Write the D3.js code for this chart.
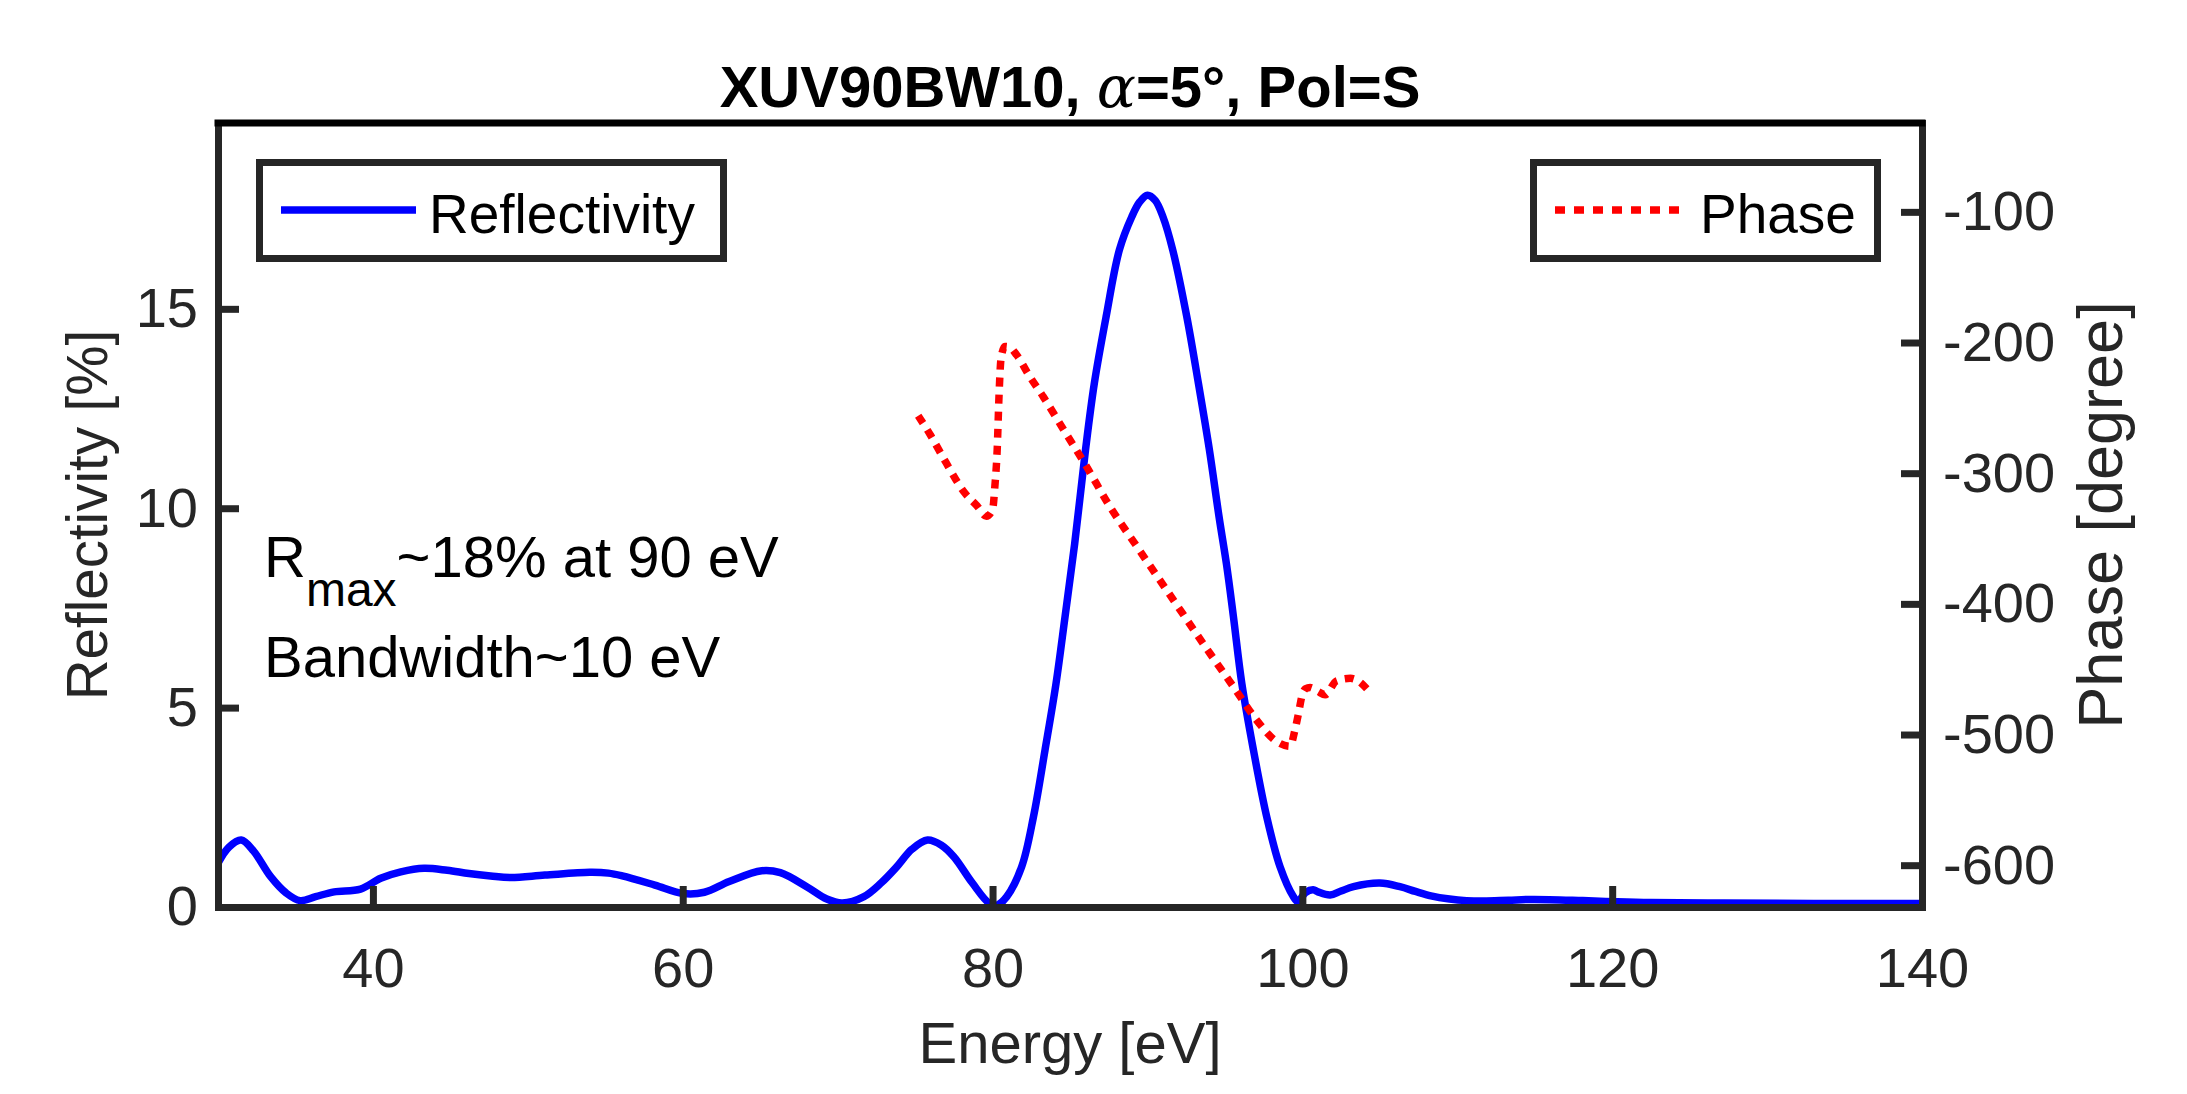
<!DOCTYPE html>
<html>
<head>
<meta charset="utf-8">
<script src="https://cdn.jsdelivr.net/npm/d3@7"></script>
<style>
  html, body { margin: 0; padding: 0; background: #fff; }
  svg { display: block; }
  text { font-family: "Liberation Sans", Arial, Helvetica, sans-serif; }
</style>
</head>
<body>
<svg id="chart" width="2187" height="1094"></svg>
<script>
// ---------- data ----------
const reflEnergy = [30, 30.7, 31.5, 32.3, 33.4, 34.4, 35.3, 36.3, 37.5, 39.2, 40.5, 41.8, 43.3, 44.8, 46.2, 47.6, 48.9, 51.1, 54.0, 55.2, 56.1, 58.2, 60.0, 61.4, 63.0, 65.1, 66.3, 68.0, 69.3, 70.3, 71.7, 72.8, 73.8, 74.8, 75.8, 76.7, 77.5, 78.7, 79.8, 80.3, 80.92, 81.88, 82.64, 83.39, 84.1, 84.68, 85.3, 86.0, 86.57, 87.33, 88.19, 88.99, 89.5, 90.0, 90.5, 91.0, 91.63, 92.54, 93.29, 94.0, 94.62, 95.1, 95.55, 96.09, 96.84, 97.7, 98.56, 99.42, 99.7, 100.2, 100.7, 101.0, 101.79, 102.5, 103.3, 105.0, 106.3, 107.3, 108.3, 109.5, 110.6, 111.7, 113.3, 114.9, 118.1, 120.3, 122.5, 127.2, 133, 140];
const reflValue  = [1.1, 1.5, 1.68, 1.4, 0.76, 0.35, 0.16, 0.26, 0.38, 0.45, 0.72, 0.88, 0.97, 0.92, 0.84, 0.78, 0.74, 0.8, 0.87, 0.85, 0.78, 0.55, 0.34, 0.37, 0.64, 0.91, 0.86, 0.51, 0.2, 0.1, 0.26, 0.6, 1.0, 1.45, 1.68, 1.55, 1.26, 0.6, 0.09, 0.05, 0.26, 1.01, 2.26, 3.94, 5.61, 7.28, 9.1, 11.46, 13.13, 14.8, 16.48, 17.31, 17.68, 17.85, 17.72, 17.31, 16.48, 14.8, 13.13, 11.46, 9.79, 8.6, 7.28, 5.61, 3.94, 2.26, 1.01, 0.26, 0.14, 0.36, 0.43, 0.38, 0.30, 0.4, 0.51, 0.6, 0.51, 0.39, 0.28, 0.2, 0.16, 0.15, 0.17, 0.19, 0.16, 0.13, 0.11, 0.1, 0.09, 0.09];

const phaseEnergy = [75.2, 76.0, 77.0, 78.2, 79.0, 79.6, 80.0, 80.15, 80.3, 80.42, 80.55, 80.8, 81.1, 81.56, 82.4, 83.28, 84.6, 85.97, 87.6, 89.31, 91.67, 94.04, 95.76, 96.95, 98.35, 99.2, 99.53, 99.75, 99.96, 100.2, 100.5, 101.0, 101.47, 102.2, 103.1, 103.6, 104.16];
const phaseValue  = [-256, -271, -292, -315, -325, -333, -328, -310, -282, -240, -212, -203, -203.5, -209.6, -226, -241.6, -267, -293, -326, -356, -397, -438, -467, -487.5, -505.4, -509, -496, -484, -471, -465, -464, -467, -469.6, -459, -457, -459, -465];

const xTicks = [40, 60, 80, 100, 120, 140];
const yLeftTicks = [0, 5, 10, 15];
const yRightTicks = [-100, -200, -300, -400, -500, -600];

const titleMain = "XUV90BW10, ";
const titleAlpha = "\u03B1";
const titleRest = "=5\u00B0, Pol=S";
const xLabel = "Energy [eV]";
const yLeftLabel = "Reflectivity [%]";
const yRightLabel = "Phase [degree]";
const legendRefl = "Reflectivity";
const legendPhase = "Phase";

// ---------- layout ----------
const svg = d3.select("#chart");
const L = 218, R = 1922, T = 123, B = 907;
const axisColor = "#262626";

svg.append("rect").attr("width", 2187).attr("height", 1094).attr("fill", "#fff");

const x = d3.scaleLinear().domain([30, 140]).range([L, R]);
const yL = d3.scaleLinear().domain([0, 19.66]).range([B, T]);
const yR = d3.scaleLinear().domain([-632, -32]).range([B, T]);

svg.append("clipPath").attr("id", "clip")
  .append("rect").attr("x", L).attr("y", T).attr("width", R - L).attr("height", B - T);

// ---------- lines ----------
const reflData = reflEnergy.map((e, i) => [e, reflValue[i]]);
const phaseData = phaseEnergy.map((e, i) => [e, phaseValue[i]]);

const lineRefl = d3.line().x(d => x(d[0])).y(d => yL(d[1])).curve(d3.curveCatmullRom.alpha(0.5));
const linePhase = d3.line().x(d => x(d[0])).y(d => yR(d[1])).curve(d3.curveMonotoneX);

const g = svg.append("g").attr("clip-path", "url(#clip)");
g.append("path").datum(reflData).attr("d", lineRefl)
  .attr("fill", "none").attr("stroke", "#0000ff").attr("stroke-width", 7.5)
  .attr("stroke-linejoin", "round");
g.append("path").datum(phaseData).attr("d", linePhase)
  .attr("fill", "none").attr("stroke", "#ff0000").attr("stroke-width", 7.5)
  .attr("stroke-dasharray", "9,8");

// ---------- axes ----------
function styleAxis(sel) {
  sel.select(".domain").attr("stroke", axisColor).attr("stroke-width", 7).attr("stroke-linecap", "square");
  sel.selectAll(".tick line").attr("stroke", axisColor).attr("stroke-width", 7);
  sel.selectAll(".tick text").attr("fill", axisColor).attr("font-size", 56)
    .attr("font-family", "'Liberation Sans', Arial, sans-serif");
}

const xAxis = svg.append("g").attr("transform", `translate(0,${B})`)
  .call(d3.axisBottom(x).tickValues(xTicks).tickFormat(d3.format("d")).tickSize(-21).tickSizeOuter(0).tickPadding(40));
styleAxis(xAxis);

const yAxisL = svg.append("g").attr("transform", `translate(${L},0)`)
  .call(d3.axisLeft(yL).tickValues(yLeftTicks).tickFormat(d3.format("d")).tickSize(-21).tickSizeOuter(0).tickPadding(20));
styleAxis(yAxisL);

const yAxisR = svg.append("g").attr("transform", `translate(${R},0)`)
  .call(d3.axisRight(yR).tickValues(yRightTicks).tickFormat(d => "-" + Math.abs(d)).tickSize(-21).tickSizeOuter(0).tickPadding(21));
styleAxis(yAxisR);

svg.append("line").attr("x1", L).attr("x2", R).attr("y1", T).attr("y2", T)
  .attr("stroke", "#000").attr("stroke-width", 7).attr("stroke-linecap", "square");

// ---------- labels ----------
const title = svg.append("text").attr("x", (L + R) / 2).attr("y", 107)
  .attr("text-anchor", "middle").attr("font-size", 58).attr("font-weight", "bold").attr("fill", "#000");
title.append("tspan").text(titleMain);
title.append("tspan").text(titleAlpha).attr("font-family", "'DejaVu Serif', 'Liberation Serif', serif")
  .attr("font-style", "italic").attr("font-weight", "normal");
title.append("tspan").text(titleRest);

svg.append("text").attr("x", (L + R) / 2).attr("y", 1063).attr("text-anchor", "middle")
  .attr("font-size", 58).attr("fill", axisColor).text(xLabel);

svg.append("text").attr("transform", `translate(107,${(T + B) / 2}) rotate(-90)`)
  .attr("text-anchor", "middle").attr("font-size", 56.5).attr("fill", axisColor).text(yLeftLabel);

svg.append("text").attr("transform", `translate(2122,${(T + B) / 2}) rotate(-90)`)
  .attr("text-anchor", "middle").attr("font-size", 63).attr("fill", axisColor).text(yRightLabel);

// ---------- annotation ----------
const ann = svg.append("text").attr("x", 264).attr("y", 577).attr("font-size", 58).attr("fill", "#000");
ann.append("tspan").text("R");
ann.append("tspan").text("max").attr("font-size", 48).attr("dy", 29);
ann.append("tspan").text("~18% at 90 eV").attr("dy", -29);

svg.append("text").attr("x", 264).attr("y", 677).attr("font-size", 58).attr("fill", "#000")
  .text("Bandwidth~10 eV");

// ---------- legends ----------
const leg1 = svg.append("g");
leg1.append("rect").attr("x", 259.5).attr("y", 162.5).attr("width", 464).attr("height", 96)
  .attr("fill", "#fff").attr("stroke", axisColor).attr("stroke-width", 7);
leg1.append("line").attr("x1", 281).attr("x2", 416).attr("y1", 210).attr("y2", 210)
  .attr("stroke", "#0000ff").attr("stroke-width", 7.5);
leg1.append("text").attr("x", 429).attr("y", 233).attr("font-size", 55).attr("fill", "#000").text(legendRefl);

const leg2 = svg.append("g");
leg2.append("rect").attr("x", 1533.5).attr("y", 162.5).attr("width", 344).attr("height", 96)
  .attr("fill", "#fff").attr("stroke", axisColor).attr("stroke-width", 7);
leg2.append("line").attr("x1", 1555).attr("x2", 1683).attr("y1", 210).attr("y2", 210)
  .attr("stroke", "#ff0000").attr("stroke-width", 7.5).attr("stroke-dasharray", "10,9");
leg2.append("text").attr("x", 1700).attr("y", 233).attr("font-size", 55).attr("fill", "#000").text(legendPhase);
</script>
</body>
</html>
